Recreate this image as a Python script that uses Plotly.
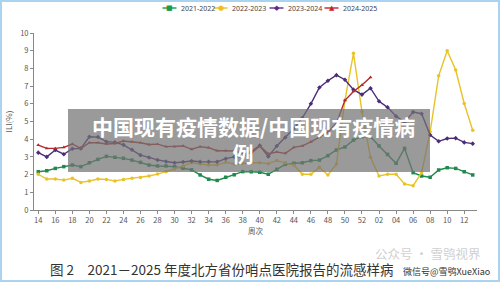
import plotly.graph_objects as go

weeks = [str(w) for w in range(14, 53)] + [f"{w:02d}" for w in range(1, 14)]

s2122 = [2.16, 2.22, 2.35, 2.45, 2.54, 2.45, 2.67, 2.86, 3.03, 2.98, 2.92, 2.82, 2.69, 2.54, 2.49, 2.49,
         2.45, 2.36, 2.27, 1.98, 1.74, 1.67, 1.85, 1.99, 2.17, 2.16, 2.13, 2.02, 2.30, 2.58, 2.64, 2.67,
         2.79, 2.82, 3.07, 3.39, 3.56, 3.95, 4.14, 4.14, 3.62, 3.14, 2.64, 3.48, 2.11, 1.92, 1.85, 2.26,
         2.39, 2.35, 2.16, 1.98]
s2223 = [2.02, 1.75, 1.75, 1.69, 1.79, 1.56, 1.64, 1.75, 1.73, 1.64, 1.73, 1.79, 1.83, 1.92, 2.03, 2.16,
         2.32, 2.49, 2.67, 2.60, 2.54, 2.54, 2.70, 2.60, 2.64, 2.67, 2.67, 2.62, 2.79, 2.67, 2.54, 2.02,
         2.02, 2.41, 1.98, 2.60, 6.20, 8.85, 5.55, 2.98, 1.92, 2.02, 2.02, 1.47, 1.37, 2.11, 4.42, 7.58,
         9.00, 7.91, 6.02, 4.50]
s2324 = [3.24, 3.00, 3.39, 3.15, 3.46, 3.48, 4.14, 4.12, 3.86, 3.82, 3.68, 3.40, 3.10, 2.97, 2.83, 2.74,
         2.67, 2.71, 2.77, 2.73, 2.73, 2.72, 2.90, 3.00, 3.01, 3.30, 3.64, 3.02, 3.62, 4.10, 4.60, 5.20,
         6.00, 6.92, 7.30, 7.62, 7.36, 6.80, 6.52, 6.88, 6.14, 5.80, 5.30, 4.95, 5.53, 5.44, 4.24, 3.88,
         4.04, 4.06, 3.82, 3.75]
s2425 = [3.67, 3.48, 3.48, 3.54, 3.73, 3.48, 3.80, 3.80, 3.73, 3.76, 3.90, 3.86, 3.80, 3.70, 3.72, 3.58,
         3.58, 3.62, 3.43, 3.58, 3.52, 3.35, 3.35, 3.33, 3.20, 3.20, 3.62, 3.18, 3.28, 3.20, 3.54, 3.62,
         3.85, 4.10, 4.39, 4.90, 6.20, 6.70, 7.06, 7.50]

series = [
    ("2021-2022", s2122, "#1f8a4c", "square", "■", "#1a9a4a"),
    ("2022-2023", s2223, "#e9c227", "circle", "●", "#f0bf1e"),
    ("2023-2024", s2324, "#4a2c79", "diamond", "◆", "#5a2d8c"),
    ("2024-2025", s2425, "#b3282d", "triangle-up", "▲", "#c7222a"),
]

W, H = 500, 282
ml, mr, mt, mb = 34, 23, 33, 72
pw, ph = W - ml - mr, H - mt - mb

def px(x):
    return (x - ml) / pw

def py(y):
    return (H - mb - y) / ph

x_idx = list(range(len(weeks)))
fig = go.Figure()
for name, vals, col, sym, glyph, lcol in series:
    fig.add_trace(go.Scatter(
        x=x_idx[:len(vals)], y=vals, name=name, mode="lines+markers",
        line=dict(color=col, width=1.4),
        marker=dict(symbol=sym, size=3.5, color=col),
        showlegend=False,
    ))

tickpos = x_idx[::2]
ticklab = weeks[::2]

font = "Noto Sans CJK SC, Noto Sans, sans-serif"
fig.update_layout(
    width=W, height=H,
    margin=dict(l=ml, r=mr, t=mt, b=mb),
    paper_bgcolor="white", plot_bgcolor="white",
    font=dict(family=font, color="#555", size=8),
    showlegend=False,
    xaxis=dict(range=[-0.5, 51.5], tickvals=tickpos, ticktext=ticklab, showgrid=False,
               showline=True, linecolor="#888", linewidth=1, ticks="outside", ticklen=3,
               tickcolor="#888", tickfont=dict(size=7.5, color="#555"), zeroline=False,
               automargin=False,
               title=dict(text="周次", font=dict(size=7.5, color="#555"), standoff=4)),
    yaxis=dict(range=[0, 10], dtick=1, showgrid=False, showline=True, linecolor="#888",
               linewidth=1, ticks="outside", ticklen=3, tickcolor="#888",
               tickfont=dict(size=7.5, color="#555"), zeroline=False, automargin=False,
               title=dict(text="ILI(%)", font=dict(size=8, color="#555"), standoff=6)),
)

shapes = [
    dict(type="rect", xref="paper", yref="paper", x0=px(68), x1=px(430), y0=py(172), y1=py(109),
         fillcolor="rgba(115,115,115,0.72)", line=dict(width=0), layer="above"),
    dict(type="rect", xref="paper", yref="paper", x0=px(1), x1=px(499), y0=py(281), y1=py(1),
         fillcolor="rgba(0,0,0,0)", line=dict(color="#a9d3ee", width=2), layer="above"),
]

ann = []
leg_marker_x = [169.5, 220.5, 276.5, 331.5]
for (name, vals, col, sym, glyph, lcol), mx in zip(series, leg_marker_x):
    shapes.append(dict(type="line", xref="paper", yref="paper", x0=px(mx - 7), x1=px(mx + 7),
                       y0=py(8), y1=py(8), line=dict(color=lcol, width=1.4)))
    ann.append(dict(text=glyph, x=px(mx), y=py(8), xanchor="center",
                    font=dict(size=7, color=lcol, family="DejaVu Sans")))
    ann.append(dict(text=name, x=px(mx + 9), y=py(8), xanchor="left",
                    font=dict(size=7, color="#444", family="Noto Sans, sans-serif")))

fig.update_layout(shapes=shapes)

ann += [
    dict(text="<b>中国现有疫情数据/中国现有疫情病<br>例\u3000</b>", x=px(253), y=py(139), align="center",
         font=dict(size=21, color="white", family=font)),
    dict(text="图 2　2021－2025 年度北方省份哨点医院报告的流感样病", x=px(48), y=py(269), xanchor="left",
         font=dict(size=13.5, color="#333", family=font)),
    dict(text="公众号 · 雪鸮视界", x=px(373), y=py(253), xanchor="left",
         font=dict(size=12.5, color="#d0d0d0", family=font)),
    dict(text="微信号@雪鸮XueXiao", x=px(401), y=py(271), xanchor="left",
         font=dict(size=9, color="#333", family=font)),
]
for a in ann:
    a.update(xref="paper", yref="paper", showarrow=False)
    a.setdefault("xanchor", "center")
    a["yanchor"] = "middle"
fig.update_layout(annotations=ann)

fig.write_html("out.html")
